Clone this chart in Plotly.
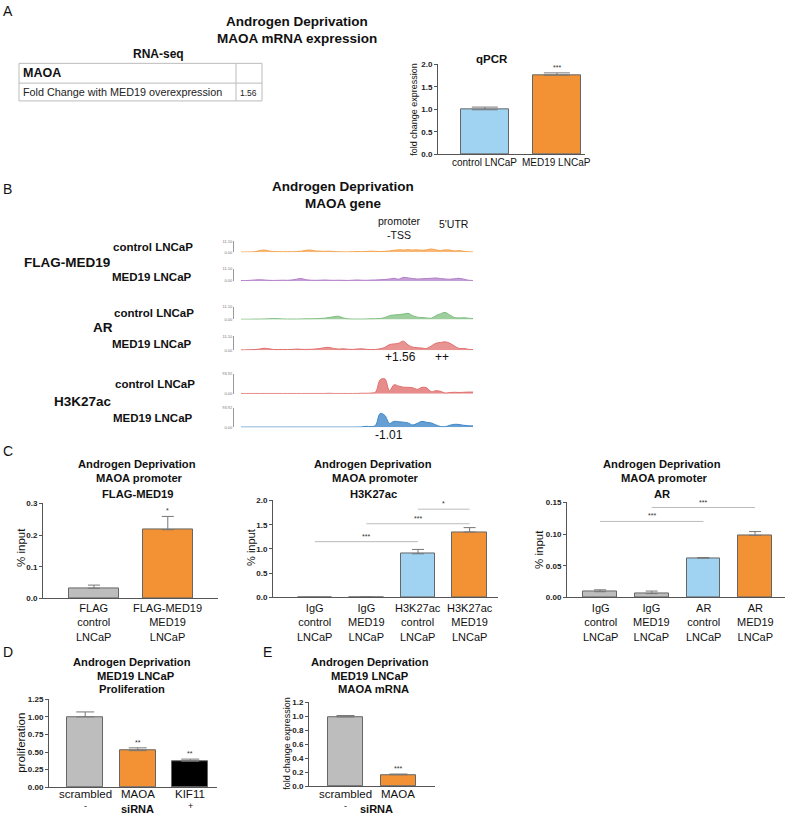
import plotly.graph_objects as go

W, H = 789, 818
FONT = "Liberation Sans, Arial, sans-serif"

BLUE = "#9fd3f1"
ORANGE = "#f39234"
GRAY = "#bdbdbd"
BLACK = "#000000"

# ---- data ----
table_head = "MAOA"
table_rows = ["Fold Change with MED19 overexpression"]
table_vals = ["1.56"]

qpcr_labels = ["control LNCaP", "MED19 LNCaP"]
qpcr_vals = [0.99, 1.76]
qpcr_err = [0.06, 0.05]
qpcr_sig = ["", "***"]

flag_labels = ["FLAG<br>control<br>LNCaP", "FLAG-MED19<br>MED19<br>LNCaP"]
flag_vals = [0.032, 0.217]
flag_err = [0.01, 0.042]
flag_sig = ["", "*"]

h3_labels = ["IgG<br>control<br>LNCaP", "IgG<br>MED19<br>LNCaP",
             "H3K27ac<br>control<br>LNCaP", "H3K27ac<br>MED19<br>LNCaP"]
h3_vals = [0.0, 0.006, 0.90, 1.35]
h3_err = [0.0, 0.004, 0.09, 0.09]
h3_comp = [(0, 2, 1.15, "***"), (1, 3, 1.52, "***"), (2, 3, 1.82, "*")]

ar_labels = ["IgG<br>control<br>LNCaP", "IgG<br>MED19<br>LNCaP",
             "AR<br>control<br>LNCaP", "AR<br>MED19<br>LNCaP"]
ar_vals = [0.009, 0.006, 0.062, 0.098]
ar_err = [0.003, 0.004, 0.001, 0.006]
ar_comp = [(0, 2, 0.120, "***"), (1, 3, 0.142, "***"), (2, 3, 0.156, "**")]

prolif_labels = ["scrambled<br>-", "MAOA", "KIF11<br>+"]
prolif_vals = [1.0, 0.52, 0.37]
prolif_err = [0.07, 0.04, 0.03]
prolif_sig = ["", "**", "**"]

mrna_labels = ["scrambled<br>-", "MAOA"]
mrna_vals = [0.99, 0.165]
mrna_err = [0.02, 0.01]
mrna_sig = ["", "***"]

# genome browser tracks (fraction of track scale), bins along MAOA locus
track_pos = list(range(0, 101, 2))
flag_ctrl = [0.02, 0.02, 0.03, 0.05, 0.15, 0.2, 0.12, 0.06, 0.05, 0.04, 0.05, 0.04, 0.06, 0.1, 0.18, 0.2,
             0.12, 0.1, 0.08, 0.1, 0.06, 0.04, 0.03, 0.03, 0.04, 0.06, 0.05, 0.07, 0.1, 0.08, 0.06, 0.08,
             0.12, 0.18, 0.22, 0.2, 0.24, 0.2, 0.22, 0.18, 0.22, 0.3, 0.22, 0.16, 0.22, 0.2, 0.12, 0.15,
             0.08, 0.04, 0.03]
flag_med = [0.03, 0.03, 0.05, 0.08, 0.1, 0.08, 0.05, 0.04, 0.05, 0.06, 0.05, 0.08, 0.15, 0.2, 0.1, 0.06,
            0.05, 0.06, 0.08, 0.06, 0.05, 0.06, 0.05, 0.04, 0.06, 0.08, 0.06, 0.05, 0.07, 0.08, 0.1, 0.12,
            0.16, 0.22, 0.14, 0.3, 0.25, 0.2, 0.16, 0.18, 0.2, 0.22, 0.25, 0.2, 0.16, 0.14, 0.18, 0.22,
            0.15, 0.06, 0.04]
ar_ctrl = [0.02, 0.02, 0.02, 0.03, 0.03, 0.04, 0.05, 0.07, 0.06, 0.04, 0.03, 0.03, 0.03, 0.04, 0.05, 0.05,
           0.06, 0.08, 0.1, 0.15, 0.22, 0.25, 0.12, 0.05, 0.03, 0.03, 0.03, 0.04, 0.05, 0.06, 0.08, 0.15,
           0.3, 0.35, 0.38, 0.42, 0.48, 0.3, 0.18, 0.15, 0.12, 0.1, 0.3, 0.45, 0.55, 0.35, 0.15, 0.12,
           0.14, 0.1, 0.08]
ar_med = [0.02, 0.02, 0.03, 0.04, 0.08, 0.14, 0.1, 0.05, 0.04, 0.05, 0.04, 0.05, 0.08, 0.06, 0.05, 0.06,
          0.08, 0.12, 0.18, 0.2, 0.12, 0.08, 0.1, 0.07, 0.05, 0.08, 0.1, 0.06, 0.04, 0.05, 0.1, 0.2,
          0.4, 0.45, 0.5, 0.65, 0.38, 0.22, 0.18, 0.15, 0.12, 0.3, 0.5, 0.55, 0.6, 0.5, 0.3, 0.12,
          0.12, 0.06, 0.04]
k27_ctrl = [0.01, 0.01, 0.01, 0.01, 0.01, 0.01, 0.01, 0.01, 0.01, 0.01, 0.01, 0.01, 0.01, 0.01, 0.01, 0.01,
            0.01, 0.01, 0.01, 0.02, 0.01, 0.01, 0.01, 0.01, 0.01, 0.01, 0.02, 0.02, 0.03, 0.08, 0.7, 0.75,
            0.15, 0.45, 0.38, 0.33, 0.32, 0.3, 0.22, 0.32, 0.3, 0.1, 0.15, 0.12, 0.03, 0.06, 0.07, 0.06,
            0.07, 0.08, 0.08]
k27_med = [0.01, 0.01, 0.01, 0.01, 0.01, 0.01, 0.01, 0.01, 0.01, 0.01, 0.01, 0.01, 0.01, 0.01, 0.01, 0.01,
           0.01, 0.01, 0.01, 0.01, 0.01, 0.01, 0.01, 0.01, 0.01, 0.01, 0.02, 0.05, 0.03, 0.1, 0.7, 0.6,
           0.2, 0.3, 0.28, 0.26, 0.22, 0.12, 0.2, 0.3, 0.25, 0.22, 0.12, 0.04, 0.03, 0.1, 0.15, 0.14,
           0.1, 0.08, 0.07]
tracks = [flag_ctrl, flag_med, ar_ctrl, ar_med, k27_ctrl, k27_med]
track_scale = ["11.10", "11.10", "11.10", "11.10", "93.92", "93.92"]
track_colors = ["#f5a24d", "#b27ec8", "#7dbd7d", "#e0706e", "#e0706e", "#3f87c8"]
track_fills = ["rgba(245,162,77,0.75)", "rgba(178,126,200,0.75)", "rgba(125,189,125,0.75)",
               "rgba(224,112,110,0.75)", "rgba(224,112,110,0.8)", "rgba(63,135,200,0.8)"]


def px(x):
    return x / W


def py(y):
    return 1 - y / H


def k(n):
    return "" if n == 1 else str(n)


fig = go.Figure()
lay = {}
notes = []
shapes = []


def note(text, x, y, size=11, bold=False, anchor="center", angle=0, color="#111"):
    notes.append(dict(text=("<b>%s</b>" % text) if bold else text, x=px(x), y=py(y),
                      xref="paper", yref="paper", showarrow=False, xanchor=anchor,
                      yanchor="middle", textangle=angle, borderpad=0,
                      font=dict(size=size, color=color, family=FONT)))


def pline(x0, y0, x1, y1, color="#bbbbbb"):
    shapes.append(dict(type="line", x0=px(x0), x1=px(x1), y0=py(y0), y1=py(y1),
                       xref="paper", yref="paper", line=dict(color=color, width=1)))


def bar_panel(n, x0, x1, y0, y1, xr, yr, dtick, fmt, labels, label_y, vals, errs, colors,
              width, capw, sig=None, lsize=11, stacked=True):
    lay["xaxis" + k(n)] = dict(domain=[px(x0), px(x1)], anchor="y" + k(n), range=xr,
                               showline=True, linecolor="#555", linewidth=1, ticks="",
                               showticklabels=False, showgrid=False, zeroline=False)
    lay["yaxis" + k(n)] = dict(domain=[py(y1), py(y0)], anchor="x" + k(n), range=yr,
                               showline=True, linecolor="#555", linewidth=1, ticks="outside",
                               ticklen=3, tickcolor="#555", dtick=dtick, tickformat=fmt,
                               tickfont=dict(size=8, color="#222", family=FONT, weight="bold"),
                               showgrid=False, zeroline=False)
    fig.add_trace(go.Bar(x=list(range(len(vals))), y=vals, width=width,
                         marker=dict(color=colors, line=dict(color="#666", width=1)),
                         error_y=dict(type="data", array=errs, arrayminus=[0] * len(vals),
                                      symmetric=False, color="#777", thickness=1, width=capw),
                         xaxis="x" + k(n), yaxis="y" + k(n), showlegend=False, hoverinfo="skip"))
    # category labels
    for i, lab in enumerate(labels):
        parts = [lab] if stacked else lab.split("<br>")
        for j, part in enumerate(parts):
            notes.append(dict(text=part, x=i, y=py(label_y[j]), xref="x" + k(n), yref="paper",
                              showarrow=False, yanchor="middle", borderpad=0,
                              font=dict(size=lsize if j == 0 else lsize - 2.5,
                                        color="#111", family=FONT)))
    if sig:
        for i, s in enumerate(sig):
            if s:
                notes.append(dict(text=s, x=i, y=vals[i] + errs[i], xref="x" + k(n), yref="y" + k(n),
                                  showarrow=False, yanchor="bottom", yshift=1, borderpad=0,
                                  font=dict(size=7, color="#333", family=FONT)))


def comparisons(n, comps):
    for a, b, y, s in comps:
        shapes.append(dict(type="line", x0=a, x1=b, y0=y, y1=y, xref="x" + k(n), yref="y" + k(n),
                           line=dict(color="#bbbbbb", width=1)))
        notes.append(dict(text=s, x=(a + b) / 2, y=y, xref="x" + k(n), yref="y" + k(n),
                          showarrow=False, yanchor="bottom", yshift=1, borderpad=0,
                          font=dict(size=7, color="#333", family=FONT)))


# ---- panel A ----
note("A", 8, 7, size=14)
note("Androgen Deprivation", 297, 18, size=13.5, bold=True)
note("MAOA mRNA expression", 297, 35, size=13.5, bold=True)
note("RNA-seq", 158, 51, size=12, bold=True)

# RNA-seq table
shapes.append(dict(type="rect", x0=px(19), x1=px(262), y0=py(98), y1=py(60), xref="paper",
                   yref="paper", line=dict(color="#bbbbbb", width=1)))
pline(19, 80, 262, 80)
pline(236, 60, 236, 98)
note(table_head, 22, 70, size=12.5, bold=True, anchor="left")
note(table_rows[0], 22, 89, size=10.8, anchor="left", color="#222")
note(table_vals[0], 239, 90, size=8.5, anchor="left", color="#222")

note("qPCR", 492, 56, size=11.5, bold=True)
bar_panel(1, 438, 585, 61, 152, [-0.65, 1.39], [0, 2.0], 0.5, ".1f", qpcr_labels, [160],
          qpcr_vals, qpcr_err, [BLUE, ORANGE], 0.667, 13, qpcr_sig, lsize=10)
note("fold change expression", 414, 107, size=9, angle=-90)

# ---- panel B ----
note("B", 8, 187, size=14)
note("Androgen Deprivation", 343, 184.5, size=13.5, bold=True)
note("MAOA gene", 343, 202, size=13.5, bold=True)
note("promoter<br>-TSS", 399, 226, size=10.5)
note("5'UTR", 454, 222, size=10.5)

track_y = [(240, 251), (268, 280), (306, 319), (336, 350), (374, 394), (408, 428)]
for i, vals in enumerate(tracks):
    n = 2 + i
    y0, y1 = track_y[i]
    lay["xaxis" + k(n)] = dict(domain=[px(234), px(473)], anchor="y" + k(n), range=[-3, 100],
                               visible=False)
    lay["yaxis" + k(n)] = dict(domain=[py(y1), py(y0)], anchor="x" + k(n), range=[0, 1],
                               showline=True, linecolor="#999", linewidth=1, ticks="inside",
                               ticklen=3, tickcolor="#999", tickvals=[0, 1],
                               ticktext=["0.00", track_scale[i]],
                               tickfont=dict(size=4, color="#777", family=FONT),
                               showgrid=False, zeroline=False)
    fig.add_trace(go.Scatter(x=track_pos, y=vals, mode="lines", fill="tozeroy",
                             line=dict(color=track_colors[i], width=1, shape="spline"),
                             fillcolor=track_fills[i], xaxis="x" + k(n), yaxis="y" + k(n),
                             showlegend=False, hoverinfo="skip"))

note("control LNCaP", 194, 246, size=11.5, bold=True, anchor="right")
note("FLAG-MED19", 23, 261, size=13.5, bold=True, anchor="left")
note("MED19 LNCaP", 193, 276, size=11.5, bold=True, anchor="right")
note("control LNCaP", 195, 312, size=11.5, bold=True, anchor="right")
note("AR", 103, 327, size=13.5, bold=True)
note("MED19 LNCaP", 193, 344, size=11.5, bold=True, anchor="right")
note("control LNCaP", 196, 384, size=11.5, bold=True, anchor="right")
note("H3K27ac", 53, 402, size=13.5, bold=True, anchor="left")
note("MED19 LNCaP", 194, 419, size=11.5, bold=True, anchor="right")
note("+1.56", 400, 357, size=12)
note("++", 442, 357, size=12)
note("-1.01", 389, 436, size=12)

# ---- panel C ----
note("C", 8, 452, size=14)
for cx, sub in [(137, "FLAG-MED19"), (373, "H3K27ac"), (662, "AR")]:
    note("Androgen Deprivation", cx, 465, size=11.2, bold=True)
    note("MAOA promoter", cx + 2, 479, size=11.2, bold=True)
    note(sub, cx, 495, size=11.2, bold=True)

c_label_y = [625]
bar_panel(8, 43, 218, 505, 601, [-0.69, 1.68], [0, 0.3], 0.1, ".1f", flag_labels, c_label_y,
          flag_vals, flag_err, [GRAY, ORANGE], 0.676, 6, flag_sig)
note("% input", 21, 550, size=11.5, angle=-90)

bar_panel(9, 273, 498, 502, 600, [-0.81, 3.55], [0, 2.0], 0.5, ".1f", h3_labels, c_label_y,
          h3_vals, h3_err, [GRAY, GRAY, BLUE, ORANGE], 0.67, 6)
comparisons(9, h3_comp)
note("% input", 251, 550, size=11, angle=-90)

bar_panel(10, 567, 785, 504, 600, [-0.64, 3.58], [0, 0.15], 0.05, ".2f", ar_labels, c_label_y,
          ar_vals, ar_err, [GRAY, GRAY, BLUE, ORANGE], 0.65, 6)
comparisons(10, ar_comp)
note("% input", 539, 552, size=11.5, angle=-90)

# ---- panel D ----
note("D", 8, 655, size=14)
note("Androgen Deprivation", 132, 665, size=11.2, bold=True)
note("MED19 LNCaP", 136, 679, size=11.2, bold=True)
note("Proliferation", 132, 693, size=11.2, bold=True)
bar_panel(11, 49, 217, 703, 792, [-0.69, 2.51], [0, 1.25], 0.25, ".2f", prolif_labels,
          [799, 811], prolif_vals, prolif_err, [GRAY, ORANGE, BLACK], 0.69, 9, prolif_sig,
          lsize=11.5, stacked=False)
note("proliferation", 21, 747, size=11.5, angle=-90)
note("siRNA", 137, 813.5, size=11, bold=True)

# ---- panel E ----
note("E", 267, 655, size=14)
note("Androgen Deprivation", 370, 665, size=11.2, bold=True)
note("MED19 LNCaP", 370, 679, size=11.2, bold=True)
note("MAOA mRNA", 373, 693, size=11.2, bold=True)
bar_panel(12, 309, 435, 706, 791, [-0.69, 1.69], [0, 1.2], 0.2, ".1f", mrna_labels,
          [799, 811], mrna_vals, mrna_err, [GRAY, ORANGE], 0.66, 9, mrna_sig, lsize=11.5,
          stacked=False)
note("fold change expression", 287, 748, size=9, angle=-90)
note("siRNA", 376, 813.5, size=11, bold=True)

fig.update_layout(width=W, height=H, margin=dict(l=0, r=0, t=0, b=0),
                  paper_bgcolor="white", plot_bgcolor="white", showlegend=False,
                  font=dict(family=FONT), annotations=notes, shapes=shapes, bargap=0, **lay)
fig.write_html("out.html", config={"displayModeBar": False},
               post_script="document.body.style.margin='0';")
